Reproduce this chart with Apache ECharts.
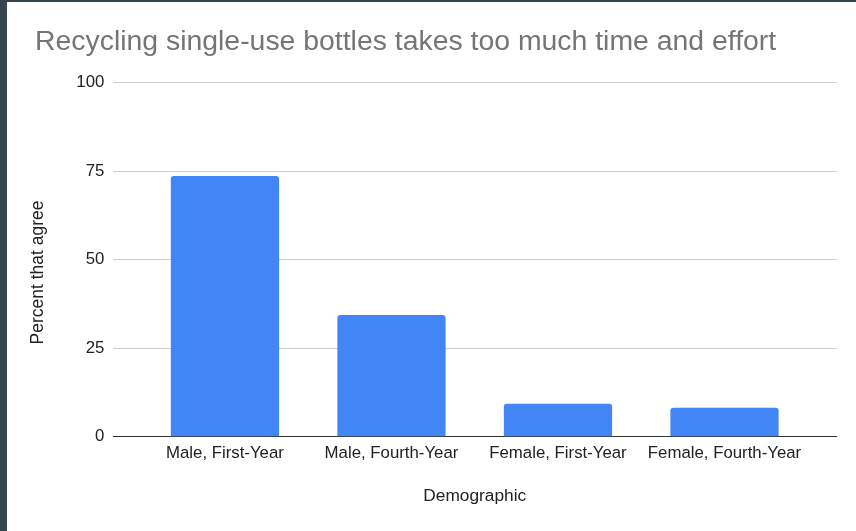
<!DOCTYPE html>
<html>
<head>
<meta charset="utf-8">
<script src="https://cdn.jsdelivr.net/npm/echarts@6/dist/echarts.min.js"></script>
<style>
html,body{margin:0;padding:0;width:856px;height:531px;background:#36464f;overflow:hidden;}
#chart{position:absolute;left:7px;top:2px;width:849px;height:529px;background:#ffffff;}
</style>
</head>
<body>
<div id="chart"></div>
<script>
const titleText = 'Recycling single-use bottles takes too much time and effort';
const categories = ['Male, First-Year', 'Male, Fourth-Year', 'Female, First-Year', 'Female, Fourth-Year'];
const percentAgree = [73.6, 34.3, 9.2, 8.1];
const yMin = 0, yMax = 100, yStep = 25;
const xAxisName = 'Demographic';
const yAxisName = 'Percent that agree';

const FONT = 'Arial, "Liberation Sans", sans-serif';
const chart = echarts.init(document.getElementById('chart'), null, {renderer: 'canvas'});
chart.setOption({
  backgroundColor: '#ffffff',
  animation: false,
  title: {
    text: titleText,
    left: 23,
    top: 21,
    textStyle: {fontFamily: FONT, fontSize: 28.4, fontWeight: 'normal', color: '#757575'}
  },
  grid: [
    {left: 106.3, right: 19.3, top: 80.7, bottom: 94.7},
    {left: 134.7, right: 48.25, top: 80.7, bottom: 94.7}
  ],
  xAxis: [
    {
      type: 'value', gridIndex: 0, min: 0, max: 1,
      axisLine: {show: true, onZero: false, lineStyle: {color: '#333333', width: 1}},
      axisTick: {show: false}, axisLabel: {show: false}, splitLine: {show: false}
    },
    {
      type: 'category', gridIndex: 1, data: categories,
      axisLine: {show: false}, axisTick: {show: false},
      axisLabel: {margin: 9, fontFamily: FONT, fontSize: 16.8, color: '#222222', interval: 0},
      name: xAxisName, nameLocation: 'middle', nameGap: 51,
      nameTextStyle: {fontFamily: FONT, fontSize: 17.3, color: '#222222'}
    }
  ],
  yAxis: [
    {
      type: 'value', gridIndex: 0, min: yMin, max: yMax, interval: yStep,
      axisLine: {show: false}, axisTick: {show: false},
      axisLabel: {margin: 9, fontFamily: FONT, fontSize: 16.8, color: '#222222'},
      splitLine: {show: true, lineStyle: {color: '#cccccc', width: 1}}
    },
    {
      type: 'value', gridIndex: 1, min: yMin, max: yMax, interval: yStep, show: false
    }
  ],
  graphic: [{
    type: 'text',
    x: 31, y: 270.5,
    rotation: Math.PI / 2,
    style: {text: yAxisName, fontFamily: FONT, fontSize: 17.5, fill: '#222222', align: 'center', verticalAlign: 'middle'}
  }],
  series: [{
    type: 'bar',
    xAxisIndex: 1, yAxisIndex: 1,
    data: percentAgree,
    barCategoryGap: '35%',
    itemStyle: {color: '#4285F4', borderRadius: [3, 3, 0, 0]}
  }]
});
</script>
</body>
</html>
